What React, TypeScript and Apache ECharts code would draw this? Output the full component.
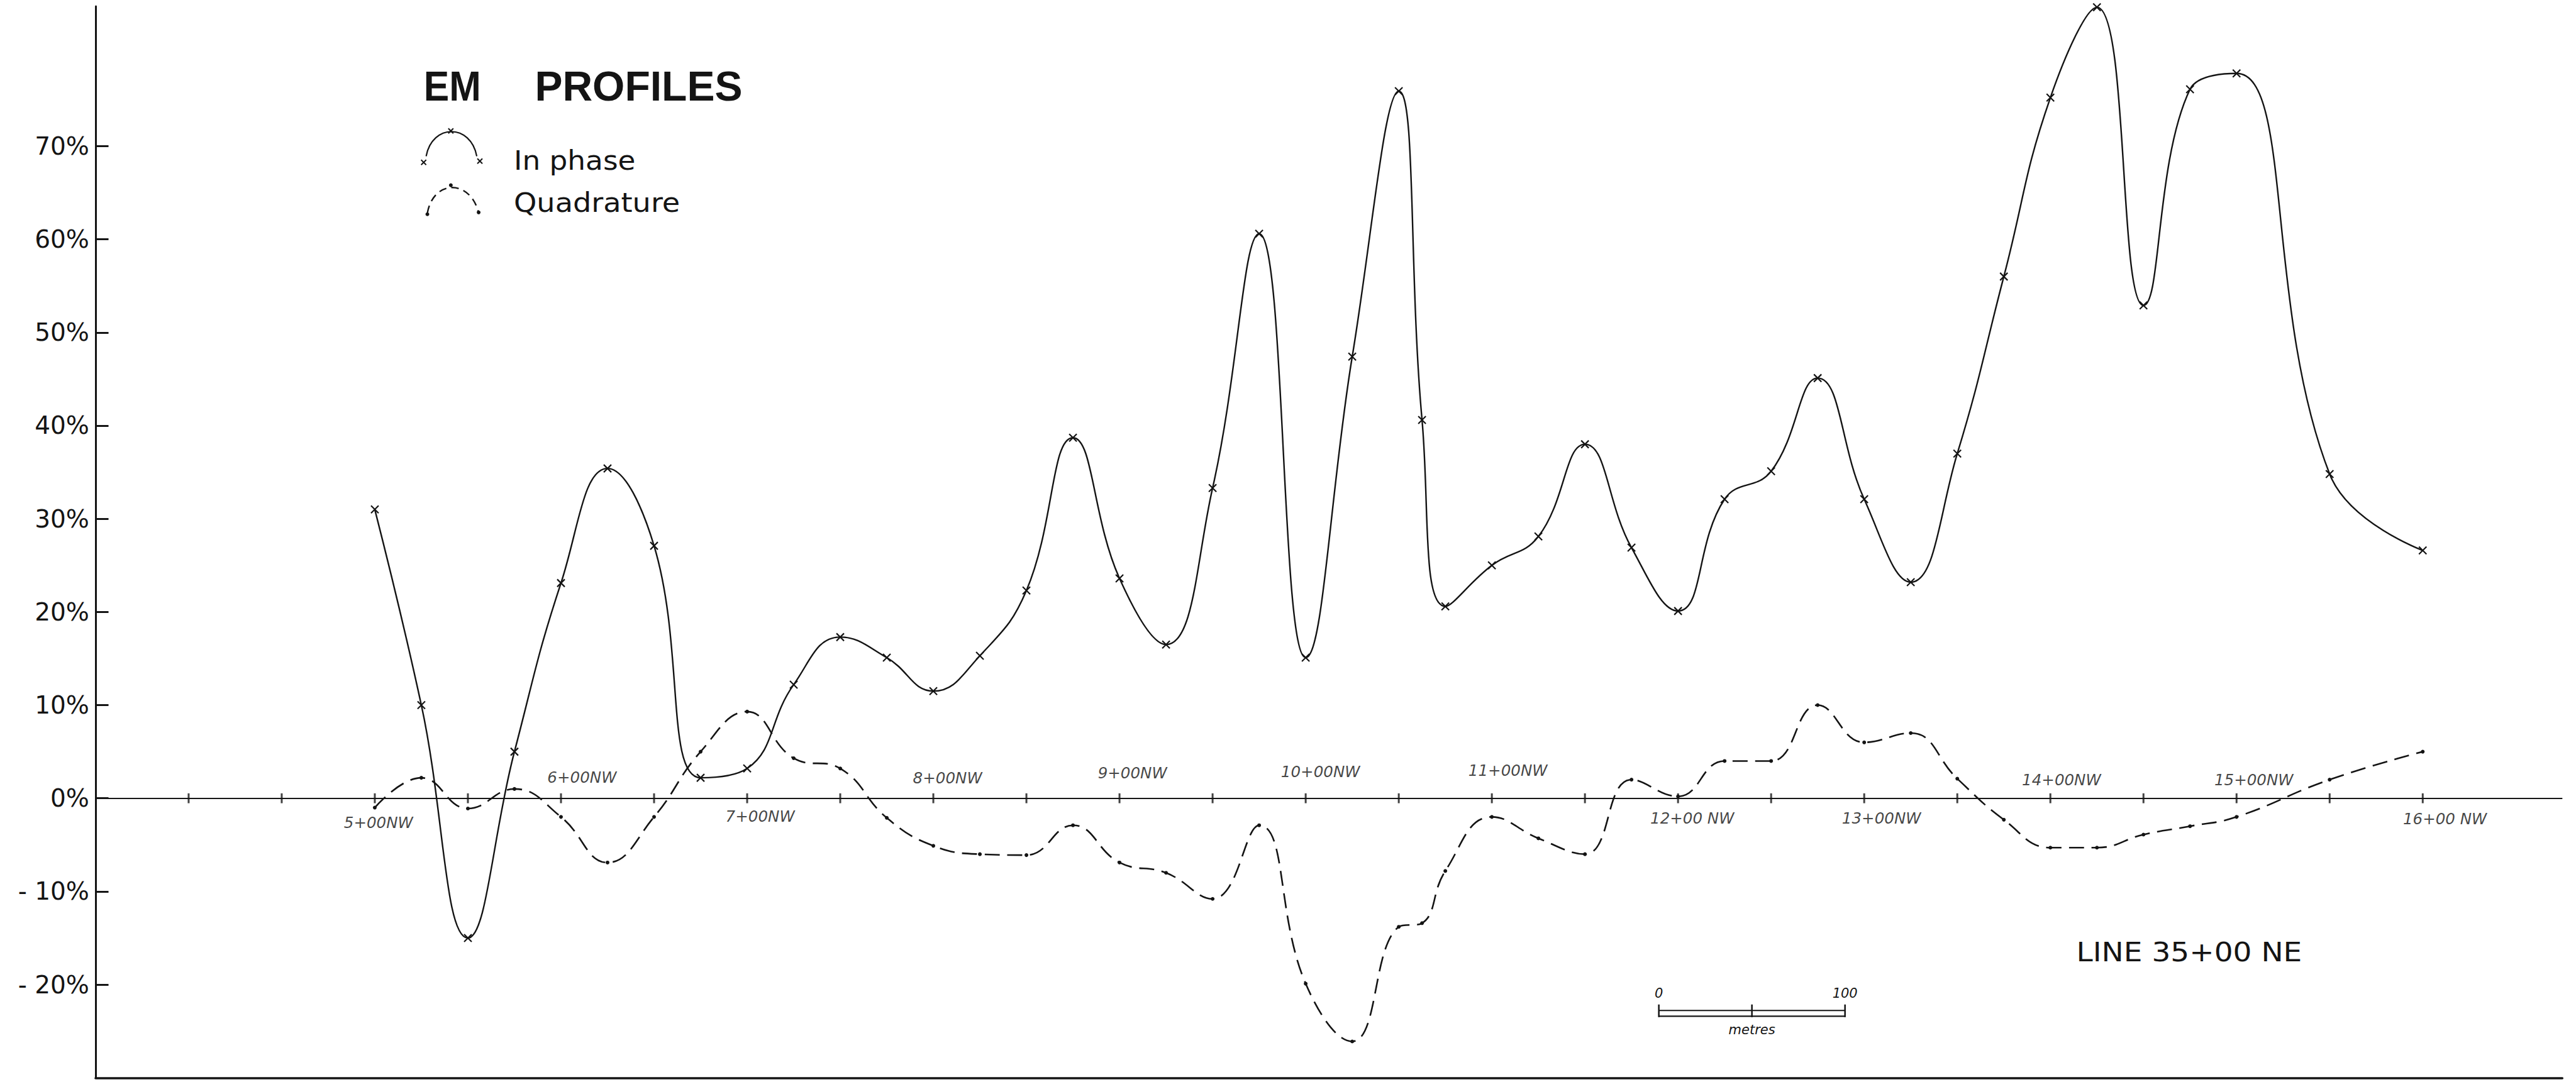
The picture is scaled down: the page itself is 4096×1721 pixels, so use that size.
import React, { useEffect, useRef } from "react";
import * as echarts from "echarts";

// ---------- DATA ----------
const STATIONS = [
  500, 525, 550, 575, 600, 625, 650, 675, 700, 725, 750, 775, 800, 825, 850, 875,
  900, 925, 950, 975, 1000, 1025, 1050, 1062.5, 1075, 1100, 1125, 1150, 1175, 1200,
  1225, 1250, 1275, 1300, 1325, 1350, 1375, 1400, 1425, 1450, 1475, 1500, 1550, 1600,
];
const IN_PHASE = [
  31.0, 10.0, -15.0, 5.0, 23.1, 35.4, 27.1, 2.2, 3.2, 12.2, 17.3, 15.1, 11.5, 15.3, 22.3, 38.7,
  23.6, 16.5, 33.3, 60.6, 15.1, 47.4, 75.9, 40.6, 20.6, 25.0, 28.1, 38.0, 26.9, 20.1,
  32.1, 35.1, 45.1, 32.1, 23.2, 37.0, 56.0, 75.2, 84.9, 52.9, 76.1, 77.8, 34.8, 26.6,
];
const QUADRATURE = [
  -1.0, 2.2, -1.1, 1.0, -2.0, -6.9, -2.0, 5.0, 9.3, 4.3, 3.2, -2.1, -5.1, -6.0, -6.1, -2.9,
  -6.9, -8.0, -10.8, -2.9, -19.9, -26.1, -13.8, -13.4, -7.8, -2.0, -4.3, -6.0, 2.0, 0.2,
  4.0, 4.0, 10.0, 6.0, 7.0, 2.1, -2.3, -5.3, -5.3, -3.9, -3.0, -2.0, 2.0, 5.0,
];
const TICK_STATIONS = [
  400, 450, 500, 550, 600, 650, 700, 750, 800, 850, 900, 950, 1000, 1050, 1100, 1150,
  1200, 1250, 1300, 1350, 1400, 1450, 1500, 1550, 1600,
];
const LABEL_STATIONS = [500, 600, 700, 800, 900, 1000, 1100, 1200, 1300, 1400, 1500, 1600];
const STATION_LABELS = [
  "5+00NW", "6+00NW", "7+00NW", "8+00NW", "9+00NW", "10+00NW", "11+00NW",
  "12+00 NW", "13+00NW", "14+00NW", "15+00NW", "16+00 NW",
];
const Y_TICKS = [-20, -10, 0, 10, 20, 30, 40, 50, 60, 70];
const X_MIN = 350;
const X_MAX = 1675;
const Y_MIN = -30;
const Y_MAX = 85;
const SCALE_BAR_METRES = 100;

// ---------- LAYOUT (reference px, scaled by S) ----------
const S = 0.982;
const W = 4096;
const H = 1721;
// per-label offsets [dx, dy] in reference pixels relative to the station on the zero line
const LABEL_OFFSETS = [
  [6, 40], [34, -34], [21, 29], [23, -33], [21, -41], [24, -43],
  [26, -45], [23, 32], [28, 32], [18, -30], [28, -30], [36, 33],
];

const INK = "#141414";

function xMark(cx: number, cy: number, r: number) {
  return [
    { type: "line", silent: true, shape: { x1: cx - r, y1: cy - r, x2: cx + r, y2: cy + r }, style: { stroke: INK, lineWidth: 2 } },
    { type: "line", silent: true, shape: { x1: cx + r, y1: cy - r, x2: cx - r, y2: cy + r }, style: { stroke: INK, lineWidth: 2 } },
  ];
}

export default function App() {
  const ref = useRef<HTMLDivElement | null>(null);

  useEffect(() => {
    if (!ref.current) return;
    const chart = echarts.init(ref.current, null, { renderer: "svg" });

    const inPhaseData = STATIONS.map((s, i) => [s, IN_PHASE[i]]);
    const quadData = STATIONS.map((s, i) => [s, QUADRATURE[i]]);
    const tickData = TICK_STATIONS.map((s) => [s, 0]);
    const labelData = LABEL_STATIONS.map((s, i) => ({
      value: [s, 0],
      label: {
        show: true,
        formatter: STATION_LABELS[i],
        position: "inside",
        offset: [LABEL_OFFSETS[i][0] * S, LABEL_OFFSETS[i][1] * S],
      },
    }));

    const option: any = {
      animation: false,
      backgroundColor: "#ffffff",
      grid: {
        left: 154.7 * S,
        right: W - 4149 * S,
        top: 10.3 * S,
        bottom: H - 1745.7 * S,
        containLabel: false,
      },
      xAxis: {
        type: "value",
        min: X_MIN,
        max: X_MAX,
        axisLine: { show: true, onZero: false, lineStyle: { color: INK, width: 3.5 } },
        axisTick: { show: false },
        axisLabel: { show: false },
        splitLine: { show: false },
      },
      yAxis: {
        type: "value",
        min: Y_MIN,
        max: Y_MAX,
        interval: 10,
        axisLine: { show: true, onZero: false, lineStyle: { color: INK, width: 3 } },
        axisTick: {
          show: true,
          inside: true,
          length: 21 * S,
          customValues: Y_TICKS,
          lineStyle: { color: INK, width: 3 },
        },
        axisLabel: {
          show: true,
          customValues: Y_TICKS,
          margin: 10,
          color: INK,
          fontFamily: "DejaVu Sans",
          fontSize: 39,
          formatter: (v: number) => (v < 0 ? "- " + -v + "%" : v + "%"),
        },
        splitLine: { show: false },
      },
      series: [
        {
          name: "ticks",
          type: "scatter",
          data: tickData,
          symbol: "rect",
          symbolSize: [3, 16 * S],
          itemStyle: { color: INK },
          silent: true,
          z: 2,
        },
        {
          name: "stations",
          type: "scatter",
          data: labelData,
          symbolSize: 1,
          itemStyle: { color: "rgba(0,0,0,0)" },
          label: {
            show: true,
            color: INK,
            fontFamily: "DejaVu Sans",
            fontStyle: "italic",
            fontSize: 25 * S,
          },
          silent: true,
          z: 2,
        },
        {
          name: "In phase",
          type: "line",
          data: inPhaseData,
          smooth: 0.45,
          clip: false,
          symbol: "path://M0,0L10,10M10,0L0,10",
          symbolSize: 12,
          itemStyle: { color: "rgba(0,0,0,0)", borderColor: INK, borderWidth: 2.2 },
          lineStyle: { color: INK, width: 2.4 },
          markLine: {
            silent: true,
            symbol: ["none", "none"],
            label: { show: false },
            lineStyle: { color: INK, width: 2, type: "solid" },
            data: [{ yAxis: 0 }],
          },
          z: 3,
        },
        {
          name: "Quadrature",
          type: "line",
          data: quadData,
          smooth: 0.45,
          clip: false,
          symbol: "circle",
          symbolSize: 6,
          itemStyle: { color: INK },
          lineStyle: { color: INK, width: 2.6, type: [24, 12] },
          z: 3,
        },
      ],
      graphic: [],
    };

    chart.setOption(option);

    // scale bar length from the x scale
    const px0 = chart.convertToPixel({ xAxisIndex: 0 }, 1000) as number;
    const px1 = chart.convertToPixel({ xAxisIndex: 0 }, 1000 + SCALE_BAR_METRES) as number;
    const barW = px1 - px0;
    const bx = 2686 * S;
    const by1 = 1636.7 * S;
    const by2 = 1646 * S;
    const tTop = 1627 * S;
    const tBot = 1647.5 * S;

    const textBase = (
      x: number, y: number, text: string, font: string, align = "left", scaleX = 1,
    ) => ({
      type: "text",
      x,
      y,
      scaleX,
      silent: true,
      style: { text, font, fill: INK, textAlign: align, textVerticalAlign: "middle" },
    });

    const graphics: any[] = [
      // title
      textBase(686 * S, 139.5 * S, "EM", `bold ${66}px "Liberation Sans"`, "left", 0.92),
      textBase(866 * S, 139.5 * S, "PROFILES", `bold ${66}px "Liberation Sans"`),
      // legend: in phase
      {
        type: "bezierCurve",
        silent: true,
        shape: {
          x1: 690 * S, y1: 253 * S, cpx1: 700 * S, cpy1: 200 * S,
          cpx2: 762 * S, cpy2: 200 * S, x2: 772 * S, y2: 253 * S,
        },
        style: { stroke: INK, lineWidth: 2.2, fill: "none" },
      },
      ...xMark(686 * S, 263 * S, 4),
      ...xMark(730 * S, 212 * S, 4),
      ...xMark(777 * S, 261 * S, 4),
      textBase(832 * S, 260 * S, "In phase", `${42}px "DejaVu Sans"`, "left", 1.08),
      // legend: quadrature
      {
        type: "bezierCurve",
        silent: true,
        shape: {
          x1: 692 * S, y1: 345 * S, cpx1: 702 * S, cpy1: 290 * S,
          cpx2: 762 * S, cpy2: 290 * S, x2: 775 * S, y2: 345 * S,
        },
        style: { stroke: INK, lineWidth: 2.4, fill: "none", lineDash: [12, 8] },
      },
      { type: "circle", silent: true, shape: { cx: 692 * S, cy: 347 * S, r: 3 }, style: { fill: INK } },
      { type: "circle", silent: true, shape: { cx: 730 * S, cy: 300 * S, r: 3 }, style: { fill: INK } },
      { type: "circle", silent: true, shape: { cx: 775 * S, cy: 344 * S, r: 3 }, style: { fill: INK } },
      textBase(832 * S, 328 * S, "Quadrature", `${42}px "DejaVu Sans"`, "left", 1.1),
      // line label
      textBase(3362 * S, 1543 * S, "LINE 35+00 NE", `${42}px "DejaVu Sans"`, "left", 1.12),
      // scale bar
      { type: "line", silent: true, shape: { x1: bx, y1: by1, x2: bx + barW, y2: by1 }, style: { stroke: INK, lineWidth: 2.2 } },
      { type: "line", silent: true, shape: { x1: bx, y1: by2, x2: bx + barW, y2: by2 }, style: { stroke: INK, lineWidth: 2.2 } },
      { type: "line", silent: true, shape: { x1: bx, y1: tTop, x2: bx, y2: tBot }, style: { stroke: INK, lineWidth: 2.5 } },
      { type: "line", silent: true, shape: { x1: bx + barW / 2, y1: tTop, x2: bx + barW / 2, y2: tBot }, style: { stroke: INK, lineWidth: 2.5 } },
      { type: "line", silent: true, shape: { x1: bx + barW, y1: tTop, x2: bx + barW, y2: tBot }, style: { stroke: INK, lineWidth: 2.5 } },
      textBase(bx, 1609 * S, "0", `italic ${21}px "DejaVu Sans"`, "center"),
      textBase(bx + barW, 1609 * S, "100", `italic ${21}px "DejaVu Sans"`, "center"),
      textBase(bx + barW / 2, 1668 * S, "metres", `italic ${21}px "DejaVu Sans"`, "center"),
    ];

    chart.setOption({ graphic: graphics });

    return () => {
      chart.dispose();
    };
  }, []);

  return (
    <div
      ref={ref}
      style={{ position: "fixed", left: 0, top: 0, width: W, height: H, background: "#fff" }}
    />
  );
}
